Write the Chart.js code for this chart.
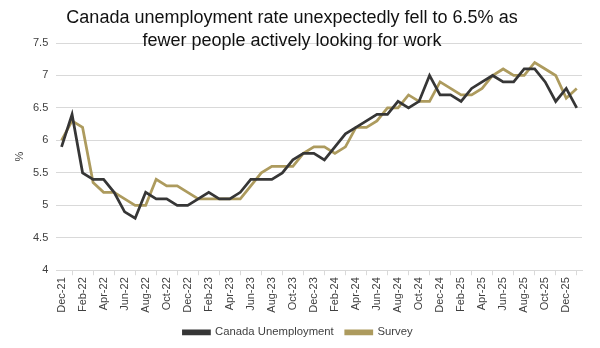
<!DOCTYPE html>
<html>
<head>
<meta charset="utf-8">
<script src="https://cdn.jsdelivr.net/npm/chart.js@4/dist/chart.umd.min.js"></script>
<style>
  html, body { margin: 0; padding: 0; background: #ffffff; }
  #wrap { width: 600px; height: 348px; position: relative; }
</style>
</head>
<body>
<div id="wrap"><canvas id="chart"></canvas></div>
<script>
// Monthly categories, Dec-21 through Jan-26
const months = [
  'Dec-21','Jan-22','Feb-22','Mar-22','Apr-22','May-22','Jun-22','Jul-22','Aug-22','Sep-22','Oct-22','Nov-22',
  'Dec-22','Jan-23','Feb-23','Mar-23','Apr-23','May-23','Jun-23','Jul-23','Aug-23','Sep-23','Oct-23','Nov-23',
  'Dec-23','Jan-24','Feb-24','Mar-24','Apr-24','May-24','Jun-24','Jul-24','Aug-24','Sep-24','Oct-24','Nov-24',
  'Dec-24','Jan-25','Feb-25','Mar-25','Apr-25','May-25','Jun-25','Jul-25','Aug-25','Sep-25','Oct-25','Nov-25',
  'Dec-25','Jan-26'
];

// Unemployment rate, %
const canadaUnemployment = [
  5.9, 6.4, 5.5, 5.4, 5.4, 5.2, 4.9, 4.8, 5.2, 5.1, 5.1, 5.0,
  5.0, 5.1, 5.2, 5.1, 5.1, 5.2, 5.4, 5.4, 5.4, 5.5, 5.7, 5.8,
  5.8, 5.7, 5.9, 6.1, 6.2, 6.3, 6.4, 6.4, 6.6, 6.5, 6.6, 7.0,
  6.7, 6.7, 6.6, 6.8, 6.9, 7.0, 6.9, 6.9, 7.1, 7.1, 6.9, 6.6,
  6.8, 6.5
];

// Survey consensus, %
const survey = [
  6.0, 6.3, 6.2, 5.35, 5.2, 5.2, 5.1, 5.0, 5.0, 5.4, 5.3, 5.3,
  5.2, 5.1, 5.1, 5.1, 5.1, 5.1, 5.3, 5.5, 5.6, 5.6, 5.6, 5.8,
  5.9, 5.9, 5.8, 5.9, 6.2, 6.2, 6.3, 6.5, 6.5, 6.7, 6.6, 6.6,
  6.9, 6.8, 6.7, 6.7, 6.8, 7.0, 7.1, 7.0, 7.0, 7.2, 7.1, 7.0,
  6.65, 6.8
];

const titleLines = [
  'Canada unemployment rate unexpectedly fell to 6.5% as',
  'fewer people actively looking for work'
];

const yTicks = { min: 4, max: 7.5, step: 0.5 };

const FONT = "'Liberation Sans', Arial, sans-serif";
const DARK = '#363636';
const GOLD = '#ad9b5e';
const GRID = '#d9d9d9';
const TEXT = '#404040';

// Two-line heading drawn over the plot
const headingPlugin = {
  id: 'heading',
  afterDraw(chart) {
    const ctx = chart.ctx;
    ctx.save();
    ctx.font = '18px ' + FONT;
    ctx.fillStyle = '#111111';
    ctx.textAlign = 'center';
    ctx.textBaseline = 'alphabetic';
    ctx.fillText(titleLines[0], 292, 23);
    ctx.fillText(titleLines[1], 292, 46);
    ctx.restore();
  }
};

new Chart(document.getElementById('chart'), {
  type: 'line',
  data: {
    labels: months,
    datasets: [
      {
        label: 'Canada Unemployment',
        data: canadaUnemployment,
        borderColor: DARK,
        backgroundColor: DARK,
        borderWidth: 2.75,
        pointRadius: 0,
        tension: 0
      },
      {
        label: 'Survey',
        data: survey,
        borderColor: GOLD,
        backgroundColor: GOLD,
        borderWidth: 2.75,
        pointRadius: 0,
        tension: 0
      }
    ]
  },
  options: {
    responsive: true,
    maintainAspectRatio: false,
    animation: false,
    layout: { padding: { top: 43, left: 14, right: 18, bottom: 0 } },
    plugins: {
      legend: {
        position: 'bottom',
        labels: {
          boxWidth: 26,
          boxHeight: 3,
          padding: 12,
          color: TEXT,
          font: { family: FONT, size: 11.3 }
        }
      },
      title: { display: false },
      tooltip: { enabled: false }
    },
    scales: {
      x: {
        type: 'category',
        offset: true,
        grid: {
          offset: true,
          drawOnChartArea: false,
          drawTicks: true,
          tickLength: 5,
          color: GRID
        },
        border: { color: GRID },
        ticks: {
          autoSkip: false,
          maxRotation: 90,
          minRotation: 90,
          padding: 2,
          color: TEXT,
          font: { family: FONT, size: 11 },
          callback: function (value, index) {
            return index % 2 === 0 ? months[index] : null;
          }
        }
      },
      y: {
        min: yTicks.min,
        max: yTicks.max,
        grid: { color: GRID, drawTicks: false },
        border: { display: false },
        ticks: {
          stepSize: yTicks.step,
          padding: 8,
          color: TEXT,
          font: { family: FONT, size: 11 },
          callback: function (value) {
            return String(Math.round(value * 10) / 10);
          }
        },
        title: {
          display: true,
          text: '%',
          color: TEXT,
          font: { family: FONT, size: 11, lineHeight: 1 },
          padding: { top: 0, bottom: 0 }
        }
      }
    }
  },
  plugins: [headingPlugin]
});
</script>
</body>
</html>
